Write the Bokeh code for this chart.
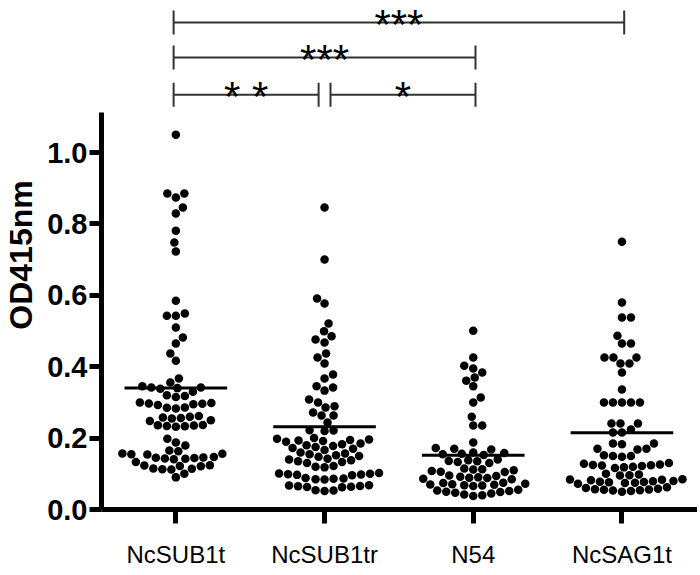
from bokeh.plotting import figure
from bokeh.embed import file_html
from bokeh.resources import INLINE
from bokeh.models import FixedTicker, PrintfTickFormatter
from bokeh.core.properties import value

# ---------------- data ----------------
categories = ["NcSUB1t", "NcSUB1tr", "N54", "NcSAG1t"]

ncsub1t = [1.05, 0.885, 0.885, 0.874, 0.846, 0.829, 0.781, 0.748, 0.723, 0.585,
           0.549, 0.543, 0.543, 0.51, 0.482, 0.465, 0.437, 0.417, 0.367, 0.356,
           0.345, 0.342, 0.342, 0.34, 0.338, 0.33, 0.32, 0.318, 0.315,
           0.30, 0.298, 0.297, 0.296, 0.295, 0.293, 0.286, 0.285, 0.283,
           0.262, 0.26, 0.258, 0.256, 0.255, 0.25, 0.248,
           0.237, 0.236, 0.235, 0.234, 0.233, 0.232, 0.198, 0.188, 0.179,
           0.165, 0.163, 0.157, 0.156, 0.155, 0.154,
           0.147, 0.146, 0.145, 0.144, 0.143, 0.142, 0.141, 0.133,
           0.124, 0.123, 0.122, 0.121, 0.115, 0.114, 0.113, 0.112, 0.10, 0.09]

ncsub1tr = [0.846, 0.70, 0.591, 0.577, 0.521, 0.499, 0.485, 0.476, 0.468, 0.437,
            0.426, 0.409, 0.378, 0.367, 0.345, 0.342, 0.333, 0.308, 0.30, 0.289,
            0.286, 0.272, 0.263, 0.263, 0.244,
            0.222, 0.221, 0.22, 0.2, 0.198, 0.196, 0.195, 0.193, 0.192, 0.19,
            0.185, 0.183, 0.18, 0.178, 0.175, 0.172, 0.17, 0.167,
            0.16, 0.157, 0.155, 0.152, 0.15, 0.148,
            0.142, 0.14, 0.138, 0.135, 0.133, 0.13, 0.122, 0.12, 0.118,
            0.102, 0.101, 0.1, 0.099, 0.098, 0.097, 0.096,
            0.088, 0.087, 0.086, 0.085, 0.084,
            0.068, 0.067, 0.066, 0.065, 0.064, 0.063, 0.062, 0.054, 0.053, 0.052]

n54 = [0.501, 0.426, 0.403, 0.395, 0.384, 0.37, 0.361, 0.345, 0.314, 0.30,
       0.26, 0.235, 0.235, 0.188,
       0.172, 0.17, 0.168, 0.16, 0.158, 0.156, 0.155, 0.153,
       0.14, 0.138, 0.136, 0.135, 0.133, 0.13,
       0.115, 0.113, 0.112, 0.11, 0.108, 0.106, 0.105,
       0.095, 0.094, 0.092, 0.09, 0.089, 0.088, 0.086, 0.085,
       0.075, 0.074, 0.072, 0.071, 0.07, 0.069, 0.068, 0.067, 0.066,
       0.055, 0.053, 0.052, 0.05, 0.049, 0.047, 0.045, 0.042, 0.04, 0.038]

ncsag1t = [0.75, 0.58, 0.538, 0.538, 0.487, 0.465, 0.465, 0.426, 0.426, 0.426,
           0.409, 0.409, 0.384, 0.336, 0.30, 0.30, 0.30, 0.30, 0.30,
           0.241, 0.241, 0.241, 0.224, 0.216, 0.216,
           0.185, 0.185, 0.183, 0.17, 0.17, 0.168, 0.152, 0.15, 0.15, 0.148,
           0.13, 0.128, 0.126, 0.125, 0.124, 0.123, 0.122, 0.12, 0.118, 0.116,
           0.1, 0.098, 0.096, 0.095,
           0.085, 0.084, 0.083, 0.082, 0.08, 0.079, 0.078, 0.077, 0.076, 0.075,
           0.074, 0.072,
           0.062, 0.06, 0.058, 0.057, 0.056, 0.055, 0.054, 0.053, 0.052, 0.05]

means = [0.34, 0.232, 0.152, 0.215]

# significance comparisons: (group a, group b, tier, label)
comparisons = [("NcSUB1t", "NcSUB1tr", 1, "* *"),
               ("NcSUB1tr", "N54", 1, "*"),
               ("NcSUB1t", "N54", 2, "***"),
               ("NcSUB1t", "NcSAG1t", 3, "***")]

y_ticks = [0.0, 0.2, 0.4, 0.6, 0.8, 1.0]

groups = [ncsub1t, ncsub1tr, n54, ncsag1t]

# ---------------- layout ----------------
FW, FH = 596, 509
LEFT, BOTTOM = 96, 58
X0, X1 = 0.5, 4.508
Y0, Y1 = 0.0, 1.4258
px_x = FW / (X1 - X0)
px_y = FH / (Y1 - Y0)


def swarm(vals, d=9.0):
    """Deterministic beeswarm: offsets (data units) so dots don't overlap."""
    order = sorted(range(len(vals)), key=lambda i: vals[i])
    placed = []
    offs = [0.0] * len(vals)
    side = 1
    for i in order:
        y = vals[i] * px_y
        near = [(px, py) for px, py in placed if abs(py - y) < d]
        chosen = 0.0
        for k in range(0, 400):
            c = k * 0.5
            cands = [0.0] if k == 0 else [side * c, -side * c]
            found = None
            for cc in cands:
                if all((cc - px) ** 2 + (y - py) ** 2 >= d * d for px, py in near):
                    found = cc
                    break
            if found is not None:
                chosen = found
                break
        if chosen != 0:
            side = -1 if chosen > 0 else 1
        placed.append((chosen, y))
        offs[i] = chosen / px_x
    return offs


p = figure(frame_width=FW, frame_height=FH, x_range=(X0, X1), y_range=(Y0, Y1),
           output_backend="svg", toolbar_location=None,
           min_border_left=LEFT, min_border_right=0, min_border_top=0,
           min_border_bottom=BOTTOM)
p.outline_line_color = None
p.xgrid.visible = False
p.ygrid.visible = False
p.background_fill_color = "white"

for gi, vals in enumerate(groups):
    offs = swarm(vals)
    xs = [gi + 1 + o for o in offs]
    p.scatter(xs, vals, size=8.5, marker="circle", fill_color="black",
              line_color="black", line_width=0)

# mean lines
half = 0.345
p.segment(x0=[i + 1 - half for i in range(4)], y0=means,
          x1=[i + 1 + half for i in range(4)], y1=means,
          line_color="black", line_width=3)

# significance brackets
levels = [1.162, 1.266, 1.364]
tick_h = 12.0 / px_y
bx0, bx1, by, tx, tlab = [], [], [], [], []
for a, b, tier, lab in comparisons:
    ia = categories.index(a) + 1
    ib = categories.index(b) + 1
    xa = ia - 0.015
    xb = ib + 0.015
    if tier == 1 and ia == 2:
        xa = ia + 0.04
    if tier == 1 and ib == 2:
        xb = ib - 0.04
    yl = levels[tier - 1]
    bx0.append(xa); bx1.append(xb); by.append(yl)
    tx.append((xa + xb) / 2); tlab.append(lab)

p.segment(x0=bx0, y0=by, x1=bx1, y1=by, line_color="#333333", line_width=2)
p.segment(x0=bx0, y0=[y - tick_h for y in by], x1=bx0, y1=[y + tick_h for y in by],
          line_color="#333333", line_width=2)
p.segment(x0=bx1, y0=[y - tick_h for y in by], x1=bx1, y1=[y + tick_h for y in by],
          line_color="#333333", line_width=2)
p.text(x=tx, y=by, text=tlab, text_align="center", text_baseline="top",
       y_offset=-22, text_font=value("Liberation Sans"), text_font_size="42px",
       text_color="black")

# axes
p.xaxis.ticker = FixedTicker(ticks=[1, 2, 3, 4])
p.xaxis.major_label_overrides = {i + 1: c for i, c in enumerate(categories)}
p.xaxis.minor_tick_line_color = None
p.xaxis.major_tick_in = 0
p.xaxis.major_tick_out = 14
p.xaxis.major_tick_line_width = 5
p.xaxis.axis_line_width = 5
p.xaxis.axis_line_color = "black"
p.xaxis.major_tick_line_color = "black"
p.xaxis.major_label_standoff = 17
p.xaxis.major_label_text_font = "Liberation Sans"
p.xaxis.major_label_text_font_size = "24px"
p.xaxis.major_label_text_color = "black"

p.yaxis.ticker = FixedTicker(ticks=y_ticks)
p.yaxis.formatter = PrintfTickFormatter(format="%.1f")
p.yaxis.bounds = (0, 1.112)
p.yaxis.minor_tick_line_color = None
p.yaxis.major_tick_in = 0
p.yaxis.major_tick_out = 12
p.yaxis.major_tick_line_width = 5
p.yaxis.axis_line_width = 5
p.yaxis.axis_line_color = "black"
p.yaxis.major_tick_line_color = "black"
p.yaxis.major_label_standoff = 2
p.yaxis.major_label_text_font = "Liberation Sans"
p.yaxis.major_label_text_font_style = "bold"
p.yaxis.major_label_text_font_size = "29px"
p.yaxis.major_label_text_color = "black"
p.yaxis.axis_label = "OD415nm"
p.yaxis.axis_label_text_font = "Liberation Sans"
p.yaxis.axis_label_text_font_style = "bold"
p.yaxis.axis_label_text_font_size = "32px"
p.yaxis.axis_label_text_color = "black"
p.yaxis.axis_label_standoff = 5

open("out.html", "w").write(file_html(p, INLINE))
